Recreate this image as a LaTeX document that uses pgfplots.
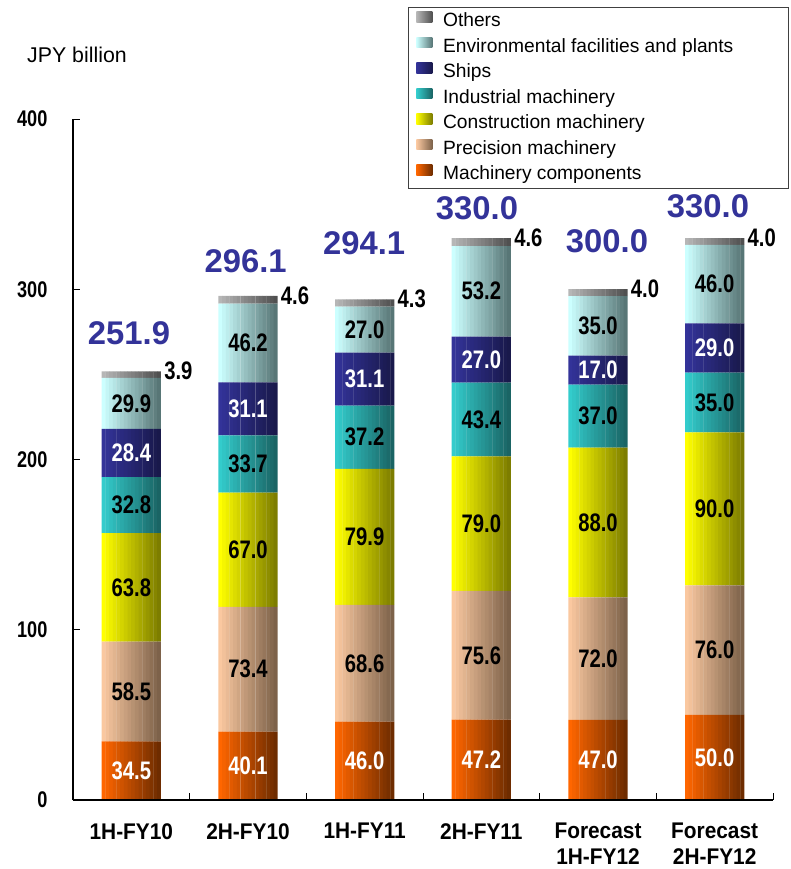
\documentclass[border=0pt]{standalone}
\usepackage{pgfplots}
\usepackage{pgfplotstable}
\pgfplotsset{compat=1.18}
\usepackage{fontspec}
\setmainfont{Liberation Sans}
\newfontfamily\condfont[FakeStretch=0.8]{Liberation Sans}
\newfontfamily\xcondfont[FakeStretch=0.92]{Liberation Sans}

\newcommand\numfont{\condfont\bfseries\fontsize{19}{19}\selectfont}
\newcommand\tickfont{\condfont\bfseries\fontsize{17}{19.5}\selectfont}
\newcommand\xtickfont{\xcondfont\bfseries\fontsize{17}{19.5}\selectfont}
\newcommand\legfont{\fontsize{14.4}{16}\selectfont}
\newcommand\totfont{\bfseries\fontsize{24.6}{25}\selectfont}

\definecolor{mcL}{RGB}{255,102,0}   \definecolor{mcR}{RGB}{110,44,0}
\definecolor{pmL}{RGB}{250,200,160} \definecolor{pmR}{RGB}{125,98,74}
\definecolor{cmL}{RGB}{255,255,0}   \definecolor{cmR}{RGB}{125,125,0}
\definecolor{imL}{RGB}{51,204,204}  \definecolor{imR}{RGB}{26,100,100}
\definecolor{shL}{RGB}{51,51,153}   \definecolor{shR}{RGB}{25,25,75}
\definecolor{enL}{RGB}{204,255,255} \definecolor{enR}{RGB}{88,118,118}
\definecolor{otL}{RGB}{182,182,182} \definecolor{otR}{RGB}{80,80,80}
\definecolor{totblue}{RGB}{51,51,153}

% segment values, label heights (middle of each segment), totals
\pgfplotstableread{
x mc   ymc   pm   ypm   cm   ycm   im   yim    sh   ysh    env  yenv   oth xo   tot   xt    ytot
0 34.5 17.25 58.5 63.75 63.8 124.9 32.8 173.2  28.4 203.8  29.9 232.95 3.9 0.28 251.9 -0.02 267.8
1 40.1 20.05 73.4 76.8  67.0 147.0 33.7 197.35 31.1 229.75 46.2 268.4  4.6 1.28 296.1 0.98  310.1
2 46.0 23.0  68.6 80.3  79.9 154.55 37.2 213.1 31.1 247.25 27.0 276.3  4.3 2.28 294.1 1.995 320.7
3 47.2 23.6  75.6 85.0  79.0 162.3 43.4 223.5  27.0 258.7  53.2 298.8  4.6 3.28 330.0 2.963 340.7
4 47.0 23.5  72.0 83.0  88.0 163.0 37.0 225.5  17.0 252.5  35.0 278.5  4.0 4.28 300.0 4.077 321.3
5 50.0 25.0  76.0 88.0  90.0 171.0 35.0 233.5  29.0 265.5  46.0 303.0  4.0 5.28 330.0 4.943 342.4
}\data

\pgfplotsset{
  base/.style={scale only axis, width=525pt, height=510.75pt,
    xmin=-0.5, xmax=5.5, ymin=0, ymax=400},
  lbl/.style={only marks, mark=none, draw=none, nodes near coords, point meta=explicit symbolic,
    nodes near coords style={font=\numfont, text=black, anchor=center, inner sep=0pt}},
}

\begin{document}
\begin{tikzpicture}
% each bar is drawn as 16 thin vertical stripes so that it gets its own left-to-right gradient
\foreach \k in {0,...,15}{
  \pgfmathsetmacro\mix{100-\k*100/15}
  \pgfmathsetmacro\sh{(\k-7.5)*44.25/16}
  \begin{axis}[base, hide axis, ybar stacked, bar width=2.95pt, bar shift=\sh pt]
  \addplot[draw=none, fill=mcL!\mix!mcR] table[x=x, y=mc] \data;
  \addplot[draw=none, fill=pmL!\mix!pmR] table[x=x, y=pm] \data;
  \addplot[draw=none, fill=cmL!\mix!cmR] table[x=x, y=cm] \data;
  \addplot[draw=none, fill=imL!\mix!imR] table[x=x, y=im] \data;
  \addplot[draw=none, fill=shL!\mix!shR] table[x=x, y=sh] \data;
  \addplot[draw=none, fill=enL!\mix!enR] table[x=x, y=env] \data;
  \addplot[draw=none, fill=otL!\mix!otR] table[x=x, y=oth] \data;
  \end{axis}
}

\begin{axis}[
    base,
    axis x line*=bottom, axis y line*=left,
    axis line style={black, line width=0.8pt},
    tick align=inside,
    ytick={0,100,200,300,400},
    major tick length=5pt, minor tick length=5pt,
    tick style={black, line width=0.6pt},
    xtick={0,...,5},
    xticklabels={1H-FY10, 2H-FY10, 1H-FY11, 2H-FY11, {Forecast\\1H-FY12}, {Forecast\\2H-FY12}},
    minor xtick={0.5,1.5,...,5.5},
    major x tick style={draw=none},
    /pgf/number format/assume math mode=true,
    xticklabel style={font=\xtickfont, align=center, anchor=north, yshift=-14pt},
    yticklabel style={font=\tickfont, inner sep=0pt, xshift=-19pt},
    ylabel={JPY billion},
    ylabel style={rotate=-90, font=\fontsize{16}{18}\selectfont, at={(axis description cs:0.0057,1.094)}, anchor=center},
    legend style={at={(axis description cs:0.4786,1.1645)}, anchor=north west,
        draw=black!75, line width=0.6pt, font=\legfont, row sep=3.6pt,
        inner xsep=6pt, inner ysep=3pt,
        nodes={inner sep=1pt, text height=10.5pt, text depth=3pt}},
    legend cell align=left,
    reverse legend,
    legend image code/.code={\path[#1, draw=none] (0pt,-0.5pt) rectangle (12pt,7.5pt);
        \path[draw=none, fill=none, shade=false] (0pt,0pt) rectangle (19pt,0.1pt);},
]
\addlegendimage{left color=mcL, right color=mcR}
\addlegendentry{Machinery components}
\addlegendimage{left color=pmL, right color=pmR}
\addlegendentry{Precision machinery}
\addlegendimage{left color=cmL, right color=cmR}
\addlegendentry{Construction machinery}
\addlegendimage{left color=imL, right color=imR}
\addlegendentry{Industrial machinery}
\addlegendimage{left color=shL, right color=shR}
\addlegendentry{Ships}
\addlegendimage{left color=enL, right color=enR}
\addlegendentry{\makebox[252pt][l]{Environmental facilities and plants}}
\addlegendimage{left color=otL, right color=otR}
\addlegendentry{Others}
\end{axis}

\begin{axis}[base, hide axis, clip=false]
\addplot[lbl, nodes near coords style={text=white}] table[x=x, y=ymc, meta=mc] \data;
\addplot[lbl] table[x=x, y=ypm, meta=pm] \data;
\addplot[lbl] table[x=x, y=ycm, meta=cm] \data;
\addplot[lbl] table[x=x, y=yim, meta=im] \data;
\addplot[lbl, nodes near coords style={text=white}] table[x=x, y=ysh, meta=sh] \data;
\addplot[lbl] table[x=x, y=yenv, meta=env] \data;
\addplot[lbl, nodes near coords style={anchor=west}] table[x=xo, y=tot, meta=oth] \data;
\addplot[lbl, nodes near coords style={font=\totfont, text=totblue, anchor=base}] table[x=xt, y=ytot, meta=tot] \data;
\end{axis}

\pgfresetboundingbox
\path[use as bounding box] (-54.75pt,-51.75pt) rectangle (538.5pt,600pt);
\end{tikzpicture}
\end{document}
